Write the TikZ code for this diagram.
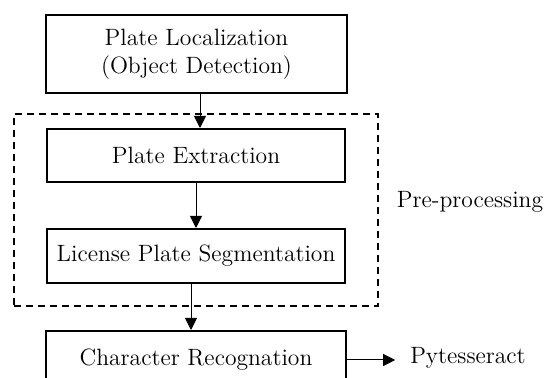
\documentclass[tikz,border=0pt]{standalone}
\usetikzlibrary{arrows.meta}
\tikzset{
	stage/.style={draw, line width=1pt, align=center, font=\fontsize{11.8}{14}\selectfont},
	plain/.style={font=\fontsize{11.8}{14}\selectfont},
	frame/.style={draw, line width=0.8pt, dash pattern=on 3.5pt off 2.5pt}
}
\begin{document}
\begin{tikzpicture}[x=0.5pt, y=-0.5pt, >={Triangle[length=6pt,width=6pt]}]
		\useasboundingbox (0,0) rectangle (547,378);
		\clip (0,0) rectangle (547,378);
		
		% Pre-processing frame
		\node[frame, minimum width=182pt, minimum height=96pt] (prep) at (196,210) {};
		\node[plain] (preplabel) at (470,202) {Pre-processing};
		
		% Stages
		\node[stage, minimum width=150.5pt, minimum height=39pt] (loc) at (196.5,54) {Plate Localization\\(Object Detection)};
		\node[stage, minimum width=149pt, minimum height=26.5pt] (extr) at (196,155.5) {Plate Extraction};
		\node[stage, minimum width=149pt, minimum height=27pt] (segm) at (196,256) {License Plate Segmentation};
		\node[stage, minimum width=150pt, minimum height=29pt] (ocr) at (196,360) {Character Recognation};
		\node[plain] (pyt) at (468,358) {Pytesseract};
		
		% Arrows
		\draw[->, line width=0.5pt] ([xshift=1.75pt]loc.south) -- ([xshift=1.75pt]loc.south |- extr.north);
		\draw[->, line width=0.5pt] (extr.south) -- (extr.south |- segm.north);
		\draw[->, line width=0.5pt] ([xshift=-2.5pt]segm.south) -- ([xshift=-2.5pt]segm.south |- ocr.north);
		\draw[->, line width=0.5pt, shorten >=4pt] (ocr.east) -- (ocr.east -| pyt.west);
\end{tikzpicture}
\end{document}
